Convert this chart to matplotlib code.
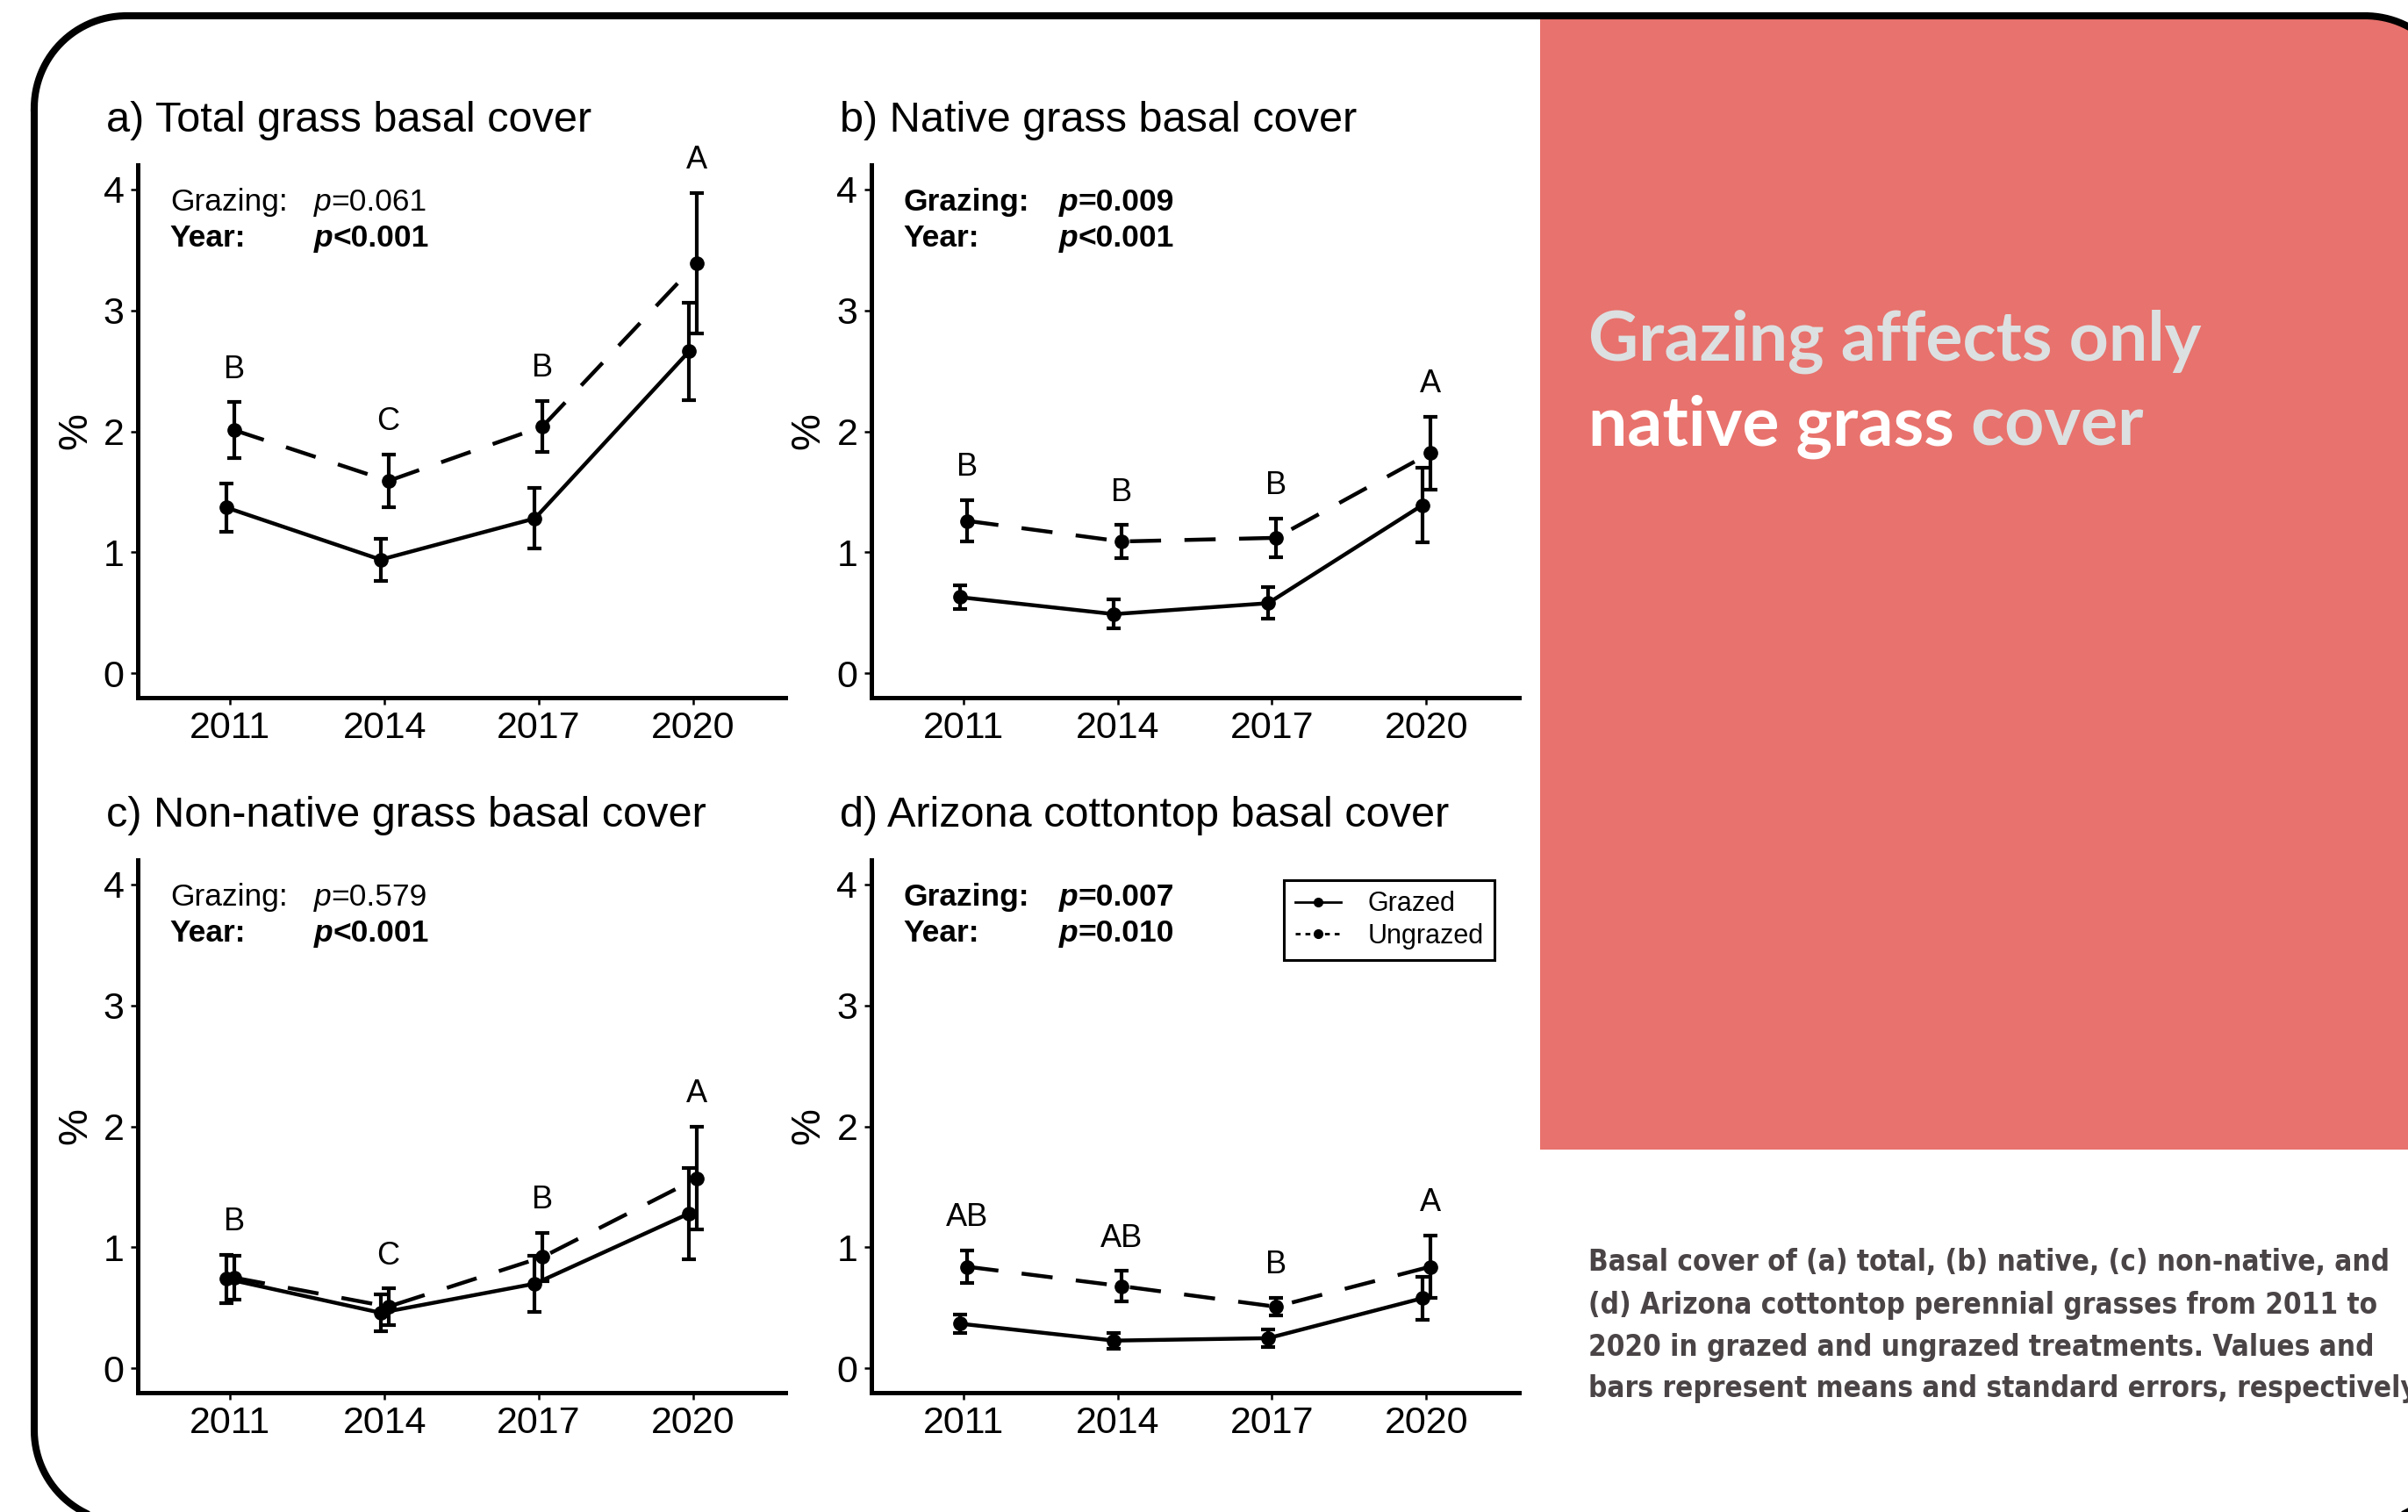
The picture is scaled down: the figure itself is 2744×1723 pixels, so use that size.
import matplotlib
matplotlib.use('Agg')
import matplotlib.pyplot as plt
import numpy as np
from matplotlib import font_manager
from matplotlib.font_manager import FontProperties
from matplotlib.lines import Line2D

# ---- dados ----
anos = ['2011', '2014', '2017', '2020']

titulos = ['a) Total grass basal cover',
           'b) Native grass basal cover',
           'c) Non-native grass basal cover',
           'd) Arizona cottontop basal cover']

total_g = [1.37, 0.94, 1.28, 2.66]
total_g_se = [0.20, 0.175, 0.25, 0.405]
total_u = [2.01, 1.59, 2.04, 3.39]
total_u_se = [0.23, 0.22, 0.21, 0.58]

nativa_g = [0.63, 0.49, 0.58, 1.39]
nativa_g_se = [0.10, 0.12, 0.13, 0.31]
nativa_u = [1.26, 1.09, 1.12, 1.82]
nativa_u_se = [0.17, 0.135, 0.16, 0.30]

exotica_g = [0.74, 0.46, 0.70, 1.28]
exotica_g_se = [0.20, 0.15, 0.23, 0.375]
exotica_u = [0.75, 0.51, 0.92, 1.57]
exotica_u_se = [0.18, 0.15, 0.20, 0.425]

cottontop_g = [0.37, 0.23, 0.25, 0.58]
cottontop_g_se = [0.075, 0.066, 0.074, 0.18]
cottontop_u = [0.84, 0.68, 0.51, 0.84]
cottontop_u_se = [0.136, 0.124, 0.075, 0.258]

letras = [['B', 'C', 'B', 'A'],
          ['B', 'B', 'B', 'A'],
          ['B', 'C', 'B', 'A'],
          ['AB', 'AB', 'B', 'A']]

p_grazing = ['=0.061', '=0.009', '=0.579', '=0.007']
p_year = ['<0.001', '<0.001', '<0.001', '=0.010']
sig_grazing = [False, True, False, True]
sig_year = [True, True, True, True]

series = ['Grazed', 'Ungrazed']

manchete = ['Grazing affects only', 'native grass', ' cover']
legenda = ['Basal cover of (a) total, (b) native, (c) non-native, and',
           '(d) Arizona cottontop perennial grasses from 2011 to',
           '2020 in grazed and ungrazed treatments. Values and',
           'bars represent means and standard errors, respectively.']

# ---- fontes ----
nomes = {f.name for f in font_manager.fontManager.ttflist}
plt.rcParams['font.family'] = ['Liberation Sans', 'DejaVu Sans']
fonte_titulo = 'Lato' if 'Lato' in nomes else 'DejaVu Sans'

# fonte estreita para a legenda (se existir alguma instalada)
arq_estreito = None
for chave in ['liberationsansnarrow-bold.', 'dejavusanscondensed-bold.',
              'condensed-bold.', 'narrow-bold.']:
    for f in font_manager.fontManager.ttflist:
        if chave in f.fname.lower().replace(' ', '') and arq_estreito is None:
            arq_estreito = f.fname
if arq_estreito:
    fp_legenda = FontProperties(fname=arq_estreito)
else:
    fp_legenda = FontProperties(family='Liberation Sans', weight='bold')

W, H = 2744, 1723
fig = plt.figure(figsize=(W / 100, H / 100), dpi=100)

# eixo de fundo em pixels (origem no topo) para moldura e painel vermelho
fundo = fig.add_axes([0, 0, 1, 1], zorder=-1)
fundo.set_xlim(0, W)
fundo.set_ylim(H, 0)
fundo.axis('off')


def arco(cx, cy, r, a0, a1, n=60):
    a = np.radians(np.linspace(a0, a1, n))
    return cx + r * np.cos(a), cy + r * np.sin(a)


# moldura arredondada (y para baixo)
x0, y0, x1, y1, r = 39, 18, 2800, 1735, 105
cantos_moldura = [(x0 + r, y0 + r, 180, 270), (x1 - r, y0 + r, 270, 360),
                  (x1 - r, y1 - r, 0, 90), (x0 + r, y1 - r, 90, 180)]
xs, ys = [], []
for cx, cy, a0, a1 in cantos_moldura:
    ax_, ay_ = arco(cx, cy, r, a0, a1)
    xs.extend(ax_)
    ys.extend(ay_)
xs.append(xs[0])
ys.append(ys[0])

# painel vermelho, cortado pelo canto superior direito da moldura
vx, vy = arco(x1 - r, y0 + r, r, 270, 360)
vx = [1755, 1755] + list(vx) + [x1]
vy = [1310, y0] + list(vy) + [1310]
fundo.fill(vx, vy, color='#E8726D', lw=0, zorder=1)
fundo.plot(xs, ys, color='black', lw=5.8, solid_joinstyle='round', zorder=2)


def px(x, y_topo):
    # pixel (a partir do topo) -> fracao da figura
    return x / W, (H - y_topo) / H


def painel(ax, i, g, g_se, u, u_se):
    x = np.arange(len(anos))
    estilo = dict(color='black', lw=3.2, marker='o', ms=11, capsize=6,
                  elinewidth=3, capthick=3)
    ax.errorbar(x - 0.025, g, yerr=g_se, ls='-', **estilo)
    ax.errorbar(x + 0.025, u, yerr=u_se, ls=(0, (8, 6)), **estilo)

    topo = np.maximum(np.array(u) + np.array(u_se), np.array(g) + np.array(g_se))
    for k in range(len(anos)):
        ax.text(x[k] + 0.025, topo[k] + 0.27, letras[i][k], fontsize=26,
                ha='center', va='center')

    ax.set_xlim(-0.6, 3.6)
    ax.set_ylim(-0.2, 4.2)
    ax.set_xticks(x, anos)
    ax.set_yticks([0, 1, 2, 3, 4])
    for lado in ['top', 'right']:
        ax.spines[lado].set_visible(False)
    for lado in ['left', 'bottom']:
        ax.spines[lado].set_linewidth(3.6)
    ax.tick_params(width=1.8, length=6, labelsize=31, pad=5, color='black')

    ax.text(-71 / 738, 0.5, '%', rotation=90, fontsize=34, ha='center',
            va='center', transform=ax.transAxes)
    ax.text(-36 / 738, 1 + 38 / 607, titulos[i], fontsize=35, ha='left',
            va='baseline', transform=ax.transAxes)

    # resultados do teste
    xp = 0.2906 if sig_grazing[i] else 0.272
    linhas = [('Grazing:', p_grazing[i], sig_grazing[i], 0.915),
              ('Year:', p_year[i], sig_year[i], 0.847)]
    for rotulo, valor, negrito, yy in linhas:
        w = 'bold' if negrito else 'normal'
        ax.text(0.05, yy, rotulo, fontsize=25.5, weight=w, va='baseline',
                transform=ax.transAxes)
        t = ax.text(xp, yy, 'p', fontsize=25.5, weight=w, style='italic',
                    va='baseline', transform=ax.transAxes)
        ax.annotate(valor, xy=(1, 0), xycoords=t, fontsize=25.5, weight=w,
                    va='bottom', ha='left')


dados = [(total_g, total_g_se, total_u, total_u_se),
         (nativa_g, nativa_g_se, nativa_u, nativa_u_se),
         (exotica_g, exotica_g_se, exotica_u, exotica_u_se),
         (cottontop_g, cottontop_g_se, cottontop_u, cottontop_u_se)]

cantos = [(157, 795), (992.6, 795), (157, 1587), (992.6, 1587)]
eixos = []
for i, (esq, base) in enumerate(cantos):
    ax = fig.add_axes([esq / W, (H - base) / H, 738 / W, 607 / H])
    painel(ax, i, *dados[i])
    eixos.append(ax)

handles = [Line2D([], [], color='black', lw=2, marker='o', ms=7),
           Line2D([], [], color='black', lw=2, ls=(0, (2, 2)), marker='o', ms=7)]
leg = eixos[3].legend(handles, series, loc='upper right',
                      bbox_to_anchor=(0.962, 0.962), fontsize=22,
                      fancybox=False, edgecolor='black', framealpha=1,
                      handlelength=1.7, handletextpad=1.0, borderpad=0.4,
                      labelspacing=0.22, borderaxespad=0)
leg.get_frame().set_linewidth(2.2)

renderer = fig.canvas.get_renderer()


def ajustar(txt, largura):
    w = txt.get_window_extent(renderer=renderer).width
    txt.set_fontsize(txt.get_fontsize() * largura / w)


t1 = fig.text(*px(1810, 410.7), manchete[0], fontsize=60, weight='bold',
              family=fonte_titulo, color='#DCE0E1', va='baseline', zorder=3)
ajustar(t1, 699)
t2 = fig.text(*px(1810, 507.6), manchete[1], fontsize=t1.get_fontsize(),
              weight='bold', family=fonte_titulo, color='white', va='baseline',
              zorder=3)
bb = t2.get_window_extent(renderer=renderer)
t3 = fig.text(bb.x1 / W, (H - 507.6) / H, manchete[2], fontsize=t1.get_fontsize(),
              weight='bold', family=fonte_titulo, color='#DCE0E1',
              va='baseline', zorder=3)

bases = [1448, 1497, 1545, 1592]
tam = None
for k, linha in enumerate(legenda):
    t = fig.text(*px(1810, bases[k]), linha, fontproperties=fp_legenda,
                 color='#4A4446', va='baseline', zorder=3)
    t.set_fontsize(30 if tam is None else tam)
    if tam is None:
        ajustar(t, 913)
        tam = t.get_fontsize()

fig.savefig('out.png', dpi=100)
